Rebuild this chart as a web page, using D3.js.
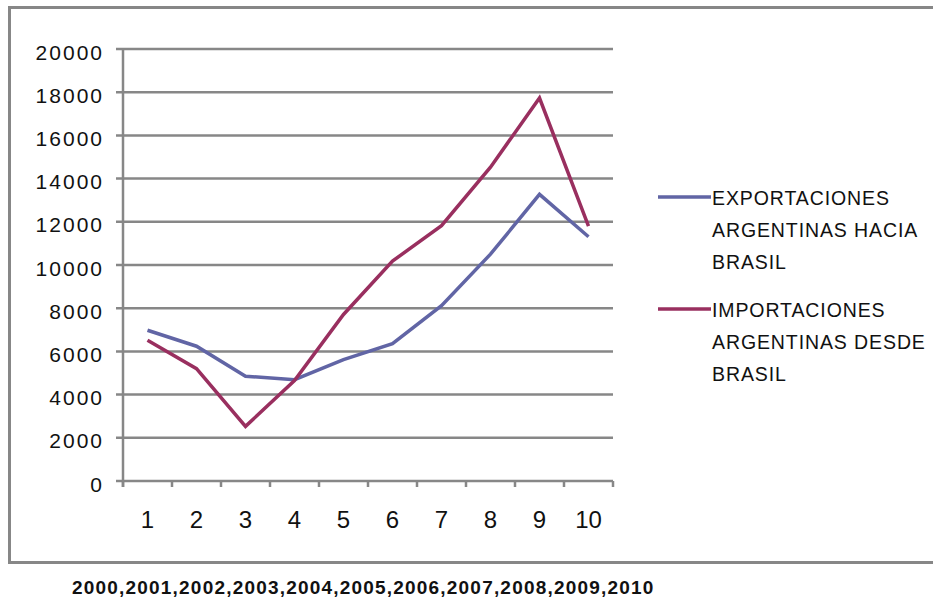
<!DOCTYPE html>
<html>
<head>
<meta charset="utf-8">
<script src="https://cdnjs.cloudflare.com/ajax/libs/d3/7.8.5/d3.min.js"></script>
<style>
  body { margin: 0; background: #fff; }
  text { font-family: "Liberation Sans", Arial, sans-serif; fill: #111; }
</style>
</head>
<body>
<div id="chart"></div>
<script>
let categories = [1, 2, 3, 4, 5, 6, 7, 8, 9, 10]
let exportaciones = [6980, 6240, 4850, 4690, 5620, 6360, 8120, 10500, 13270, 11310]
let importaciones = [6520, 5200, 2530, 4650, 7710, 10180, 11820, 14530, 17730, 11800]
let yTicks = [0, 2000, 4000, 6000, 8000, 10000, 12000, 14000, 16000, 18000, 20000]
let seriesNames = [
  ['EXPORTACIONES', 'ARGENTINAS HACIA', 'BRASIL'],
  ['IMPORTACIONES', 'ARGENTINAS DESDE', 'BRASIL']
]
let yearsLabel = '2000,2001,2002,2003,2004,2005,2006,2007,2008,2009,2010'

let width = 933
let height = 599
let margin = { top: 49, left: 123, right: 320, bottom: 118 }

let svg = d3
  .select('#chart')
  .append('svg')
  .attr('width', width)
  .attr('height', height)

let grey = '#878787'
let colors = ['#6165a5', '#992f5f']

// outer frame (right side runs off the picture)
svg
  .append('path')
  .attr('d', 'M' + 945 + ',7.5 H9.5 V562.5 H945')
  .attr('fill', 'none')
  .attr('stroke', grey)
  .attr('stroke-width', 3)

let xScale = d3
  .scaleBand()
  .domain(categories)
  .range([margin.left, width - margin.right])

let yScale = d3
  .scaleLinear()
  .domain([0, 20000])
  .range([height - margin.bottom, margin.top])

let g = svg.append('g')

// gridlines
g.selectAll('.grid')
  .data(yTicks)
  .enter()
  .append('line')
  .attr('class', 'grid')
  .attr('x1', margin.left - 7)
  .attr('x2', width - margin.right)
  .attr('y1', d => yScale(d))
  .attr('y2', d => yScale(d))
  .attr('stroke', grey)
  .attr('stroke-width', 2.5)

// y axis line
g.append('line')
  .attr('x1', margin.left)
  .attr('x2', margin.left)
  .attr('y1', yScale(20000))
  .attr('y2', yScale(0) + 6)
  .attr('stroke', grey)
  .attr('stroke-width', 2.5)

// x ticks at band edges
let xEdges = categories.map(d => xScale(d)).concat([xScale.range()[1]])
g.selectAll('.xtick')
  .data(xEdges)
  .enter()
  .append('line')
  .attr('x1', d => d)
  .attr('x2', d => d)
  .attr('y1', yScale(0))
  .attr('y2', yScale(0) + 6)
  .attr('stroke', grey)
  .attr('stroke-width', 2.5)

// y labels
g.selectAll('.ylabel')
  .data(yTicks)
  .enter()
  .append('text')
  .attr('x', 104)
  .attr('y', d => yScale(d) + 3)
  .attr('text-anchor', 'end')
  .attr('dominant-baseline', 'central')
  .style('font-size', '21px')
  .style('letter-spacing', '2px')
  .text(d => d)

// x labels
g.selectAll('.xlabel')
  .data(categories)
  .enter()
  .append('text')
  .attr('x', d => xScale(d) + xScale.bandwidth() / 2)
  .attr('y', 519)
  .attr('text-anchor', 'middle')
  .attr('dominant-baseline', 'central')
  .style('font-size', '24px')
  .text(d => d)

let line = d3
  .line()
  .x((d, i) => xScale(categories[i]) + xScale.bandwidth() / 2)
  .y(d => yScale(d))

;[exportaciones, importaciones].forEach((values, i) => {
  g.append('path')
    .datum(values)
    .attr('d', line)
    .attr('fill', 'none')
    .attr('stroke', colors[i])
    .attr('stroke-width', 3.5)
    .attr('stroke-linejoin', 'miter')
})

// legend
let legend = svg.append('g')
seriesNames.forEach((lines, i) => {
  let top = 198 + i * 112
  legend
    .append('line')
    .attr('x1', 658)
    .attr('x2', 711)
    .attr('y1', top - 1)
    .attr('y2', top - 1)
    .attr('stroke', colors[i])
    .attr('stroke-width', 3.5)
  lines.forEach((t, j) => {
    legend
      .append('text')
      .attr('x', 712)
      .attr('y', top + j * 32)
      .attr('dominant-baseline', 'central')
      .style('font-size', '19.5px')
      .style('letter-spacing', '0.9px')
      .text(t)
  })
})

// years caption under the frame
svg
  .append('text')
  .attr('x', 72)
  .attr('y', 587)
  .attr('dominant-baseline', 'central')
  .style('font-size', '19px')
  .style('font-weight', 'bold')
  .style('letter-spacing', '1.2px')
  .text(yearsLabel)
</script>
</body>
</html>
